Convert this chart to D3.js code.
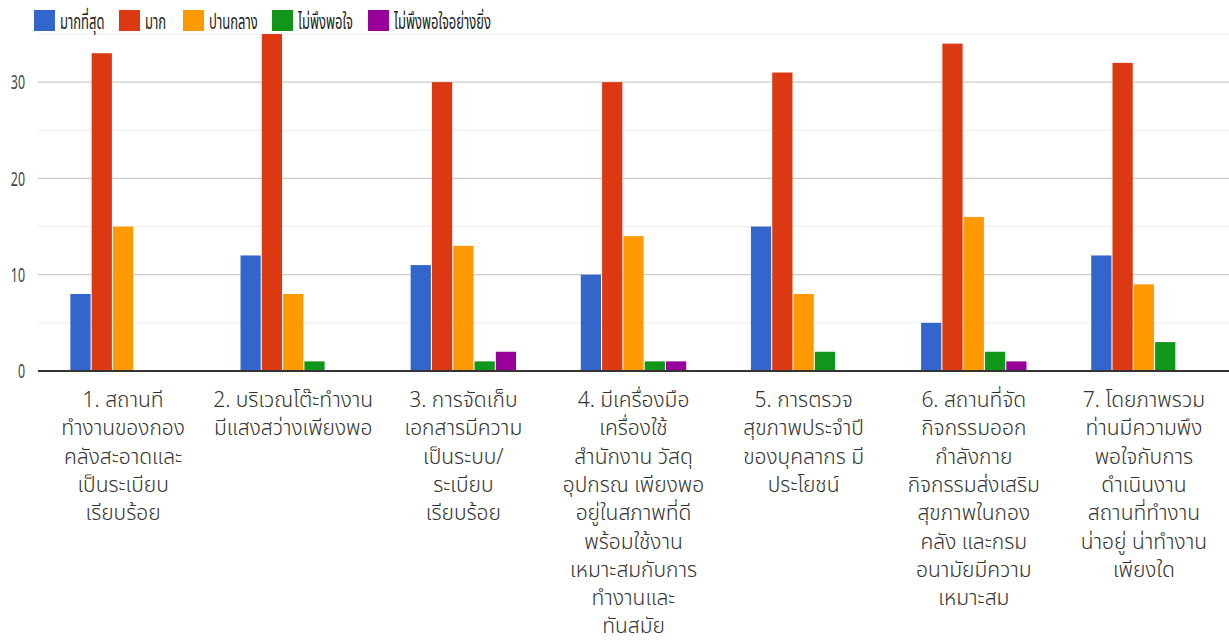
<!DOCTYPE html>
<html>
<head>
<meta charset="utf-8">
<script src="https://cdn.jsdelivr.net/npm/d3@7"></script>
<style>
  body { margin: 0; background: #fff; }
  text { font-family: "Noto Sans Thai", Tahoma, "DejaVu Sans", sans-serif; }
</style>
</head>
<body>
<div id="chart"></div>
<script>
const categories = ["c1", "c2", "c3", "c4", "c5", "c6", "c7"];
const categoryLines = [
  ["1. สถานที", "ทำงานของกอง", "คลังสะอาดและ", "เป็นระเบียบ", "เรียบร้อย"],
  ["2. บริเวณโต๊ะทำงาน", "มีแสงสว่างเพียงพอ"],
  ["3. การจัดเก็บ", "เอกสารมีความ", "เป็นระบบ/", "ระเบียบ", "เรียบร้อย"],
  ["4. มีเครื่องมือ", "เครื่องใช้", "สำนักงาน วัสดุ", "อุปกรณ เพียงพอ", "อยู่ในสภาพที่ดี", "พร้อมใช้งาน", "เหมาะสมกับการ", "ทำงานและ", "ทันสมัย"],
  ["5. การตรวจ", "สุขภาพประจำปี", "ของบุคลากร มี", "ประโยชน์"],
  ["6. สถานที่จัด", "กิจกรรมออก", "กำลังกาย", "กิจกรรมส่งเสริม", "สุขภาพในกอง", "คลัง และกรม", "อนามัยมีความ", "เหมาะสม"],
  ["7. โดยภาพรวม", "ท่านมีความพึง", "พอใจกับการ", "ดำเนินงาน", "สถานที่ทำงาน", "น่าอยู่ น่าทำงาน", "เพียงใด"]
];
const seriesNames = ["มากที่สุด", "มาก", "ปานกลาง", "ไม่พึงพอใจ", "ไม่พึงพอใจอย่างยิ่ง"];
const seriesColors = ["#3366cc", "#dc3912", "#ff9900", "#109618", "#990099"];
const mostValues = [8, 12, 11, 10, 15, 5, 12];
const muchValues = [33, 35, 30, 30, 31, 34, 32];
const midValues = [15, 8, 13, 14, 8, 16, 9];
const unsatValues = [0, 1, 1, 1, 2, 2, 3];
const veryUnsatValues = [0, 0, 2, 1, 0, 1, 0];
const yTicks = [0, 10, 20, 30];
const yGrid = [5, 15, 25, 35];

const series = [mostValues, muchValues, midValues, unsatValues, veryUnsatValues];

const width = 1229;
const height = 643;

const svg = d3
  .select("#chart")
  .append("svg")
  .attr("width", width)
  .attr("height", height);

const x0 = d3.scaleBand().domain(categories).range([38, width]).padding(0);
const x1 = d3
  .scaleBand()
  .domain(seriesNames)
  .range([0, x0.bandwidth()])
  .paddingInner(0.05)
  .paddingOuter(1.52);
const y = d3.scaleLinear().domain([0, 35]).range([371, 34]);

// gridlines
svg
  .selectAll("line.minor")
  .data(yGrid)
  .join("line")
  .attr("class", "minor")
  .attr("x1", 38)
  .attr("x2", width)
  .attr("y1", (d) => y(d))
  .attr("y2", (d) => y(d))
  .attr("stroke", "#ebebeb")
  .attr("stroke-width", 1);

svg
  .selectAll("line.major")
  .data(yTicks.filter((d) => d > 0))
  .join("line")
  .attr("class", "major")
  .attr("x1", 38)
  .attr("x2", width)
  .attr("y1", (d) => y(d))
  .attr("y2", (d) => y(d))
  .attr("stroke", "#cccccc")
  .attr("stroke-width", 1.3);

// y labels
svg
  .selectAll("text.ylab")
  .data(yTicks)
  .join("text")
  .attr("class", "ylab")
  .attr("transform", (d) => `translate(25,${y(d)}) scale(0.62,1)`)
  .attr("text-anchor", "end")
  .attr("dy", "0.36em")
  .attr("font-size", 20)
  .attr("fill", "#444")
  .text((d) => d);

// bars
const rows = [];
categories.forEach((c, i) => {
  series.forEach((s, j) => {
    rows.push({ cat: c, name: seriesNames[j], value: s[i], color: seriesColors[j] });
  });
});

svg
  .selectAll("rect.bar")
  .data(rows.filter((d) => d.value > 0))
  .join("rect")
  .attr("class", "bar")
  .attr("x", (d) => x0(d.cat) + x1(d.name))
  .attr("y", (d) => y(d.value))
  .attr("width", x1.bandwidth())
  .attr("height", (d) => y(0) - y(d.value))
  .attr("fill", (d) => d.color);

// baseline
svg
  .append("line")
  .attr("x1", 38)
  .attr("x2", width)
  .attr("y1", y(0))
  .attr("y2", y(0))
  .attr("stroke", "#333")
  .attr("stroke-width", 2);

// x labels
const xl = svg
  .selectAll("text.xlab")
  .data(categories)
  .join("text")
  .attr("class", "xlab")
  .attr("text-anchor", "middle")
  .attr("font-size", 21)
  .attr("font-weight", 300)
  .attr("fill", "#333");

xl.selectAll("tspan")
  .data((d, i) => categoryLines[i].map((t) => ({ t, cat: d })))
  .join("tspan")
  .attr("x", (d) => x0(d.cat) + x0.bandwidth() / 2)
  .attr("y", (d, i) => 407 + i * 28.3)
  .text((d) => d.t);

// legend
const legendX = [34, 119, 183, 272, 368];
const lg = svg
  .selectAll("g.legend")
  .data(seriesNames)
  .join("g")
  .attr("class", "legend")
  .attr("transform", (d, i) => `translate(${legendX[i]},10)`);

lg.append("rect")
  .attr("width", 21)
  .attr("height", 21)
  .attr("fill", (d, i) => seriesColors[i]);

lg.append("text")
  .attr("transform", "translate(26,11) scale(0.62,1)")
  .attr("dy", "0.36em")
  .attr("font-size", 21)
  .attr("fill", "#222")
  .text((d) => d);
</script>
</body>
</html>
